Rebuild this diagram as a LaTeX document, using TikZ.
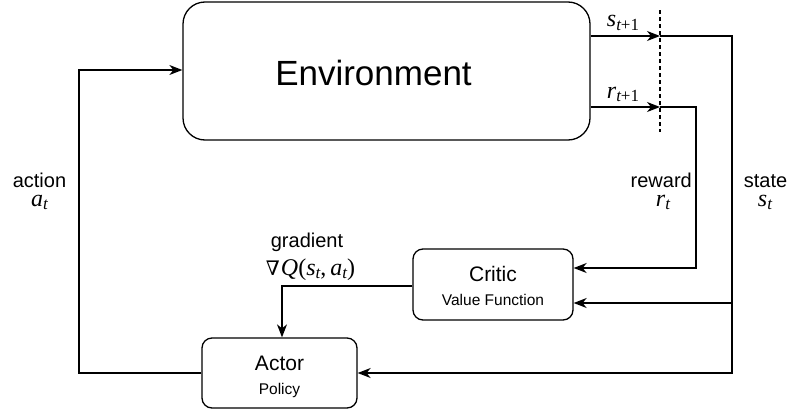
\documentclass[tikz,border=0pt]{standalone}
\usepackage{fontspec}
\setmainfont{Liberation Sans}
\newfontfamily\ser{Liberation Serif}
\newfontfamily\dvs{DejaVu Serif}
\newcommand\vi[1]{{\ser\itshape #1}}
\newcommand\sbs[1]{\raisebox{-0.16em}{\fontsize{17}{17}\selectfont #1}}
\usetikzlibrary{arrows.meta}
\begin{document}
\begin{tikzpicture}[x=1pt,y=-1pt,
  box/.style={draw,line width=1.3pt,rounded corners=10pt,align=center,inner sep=0pt},
  wire/.style={line width=1.3pt},
  arr/.style={wire,-{Stealth[length=13pt,width=10pt,inset=4pt]}},
  lab/.style={font=\fontsize{20}{22}\selectfont,inner sep=0pt,anchor=base,text depth=0pt},
  mlab/.style={font=\fontsize{24}{26}\selectfont,inner sep=0pt,anchor=base,text height=11pt},
  big/.style={font=\fontsize{21}{24}\selectfont,inner sep=0pt,anchor=base},
  small/.style={font=\fontsize{15.5}{18}\selectfont,inner sep=0pt,anchor=base}]
\useasboundingbox (0,0) rectangle (789,415);
\node[box,rounded corners=22pt,minimum width=407pt,minimum height=138pt] (env) at (386.5,71) {};
\node[font=\fontsize{35}{40}\selectfont,inner sep=0pt,anchor=base] (envt) at (373.5,85) {Environment};
\node[box,minimum width=160pt,minimum height=71pt] (critic) at (493,284.5) {};
\node[big] (ct) at (493,281) {Critic};
\node[small] (cv) at (493,305) {Value Function};
\node[box,minimum width=155pt,minimum height=70pt] (actor) at (279.5,373) {};
\node[big] (at) at (279.5,370) {Actor};
\node[small] (ap) at (279.5,394) {Policy};
\coordinate (d1) at (660,10);
\coordinate (d2) at (660,132);
\coordinate (s1) at (660,36);
\coordinate (r1) at (660,107);
\coordinate (sc) at (732,373);
\coordinate (sb) at (732,303);
\coordinate (rc) at (696,268);
\coordinate (g) at (282,286);
\coordinate (a) at (79,70);
\draw[wire,dash pattern=on 4pt off 3pt] (d1) -- (d2);
\draw[arr] (env.east |- s1) -- (s1);
\draw[arr] (env.east |- r1) -- (r1);
\draw[arr] (s1) -| (sc) -- (actor.east);
\draw[arr] (sb) -- (critic.east |- sb);
\draw[arr] (r1) -| (rc) -- (critic.east |- rc);
\draw[arr] (critic.west |- g) -| (g |- actor.north);
\draw[arr] (actor.west) -| (a) -- (env.west |- a);
\node[mlab] (ls1) at (623,27) {\vi{s}\sbs{\vi{t}\ser+1}};
\node[mlab] (lr1) at (623,98) {\vi{r}\sbs{\vi{t}\ser+1}};
\node[lab] (lact) at (39.5,187) {action};
\node[mlab] (lacm) at (39.5,206) {\vi{a}\sbs{\vi{t}}};
\node[lab,anchor=base east] (lrew) at (692,187) {reward};
\node[mlab] (lrem) at (663,206) {\vi{r}\sbs{\vi{t}}};
\node[lab] (lst) at (765.5,187) {state};
\node[mlab] (lstm) at (765,206) {\vi{s}\sbs{\vi{t}}};
\node[lab] (lgr) at (307,247) {gradient};
\node[mlab] (lgrm) at (310.5,275) {{\dvs\fontsize{20}{22}\selectfont ∇}\kern1pt\vi{Q}{\ser(}\vi{s}\sbs{\vi{t}}{\ser,\,}\vi{a}\sbs{\vi{t}}{\ser)}};
\end{tikzpicture}
\end{document}
